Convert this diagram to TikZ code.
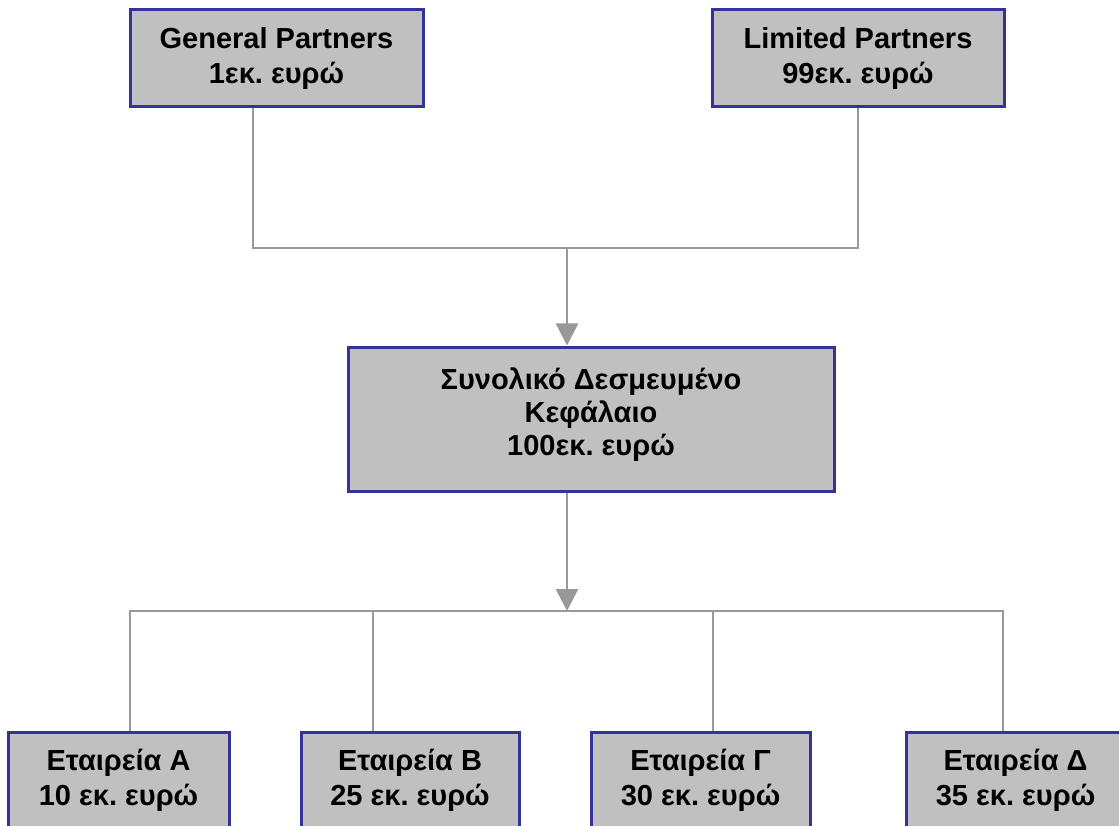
\documentclass[tikz,border=0pt]{standalone}
\usepackage{fontspec}
\setmainfont{Liberation Sans}
\usetikzlibrary{arrows.meta}
\frenchspacing
\definecolor{boxfill}{HTML}{C0C0C0}
\definecolor{boxline}{HTML}{333399}
\definecolor{connline}{HTML}{999999}
\tikzset{
  orgbox/.style={draw=boxline, fill=boxfill, line width=3pt, inner sep=0pt,
    align=center, font=\fontsize{29}{35}\selectfont\bfseries\frenchspacing, text=black},
  conn/.style={draw=connline, line width=2.6pt},
  arr/.style={conn, -{Triangle[width=22pt,length=22pt]}},
}
\begin{document}
\begin{tikzpicture}[x=1pt,y=-1pt]
\useasboundingbox (0,0) rectangle (1119,826);
\clip (0,0) rectangle (1119,826);
\fill[white] (0,0) rectangle (1119,826);
% top boxes
\node[orgbox, minimum width=293pt, minimum height=97pt] (gp) at (276.5,58.5) {General Partners\\1εκ. ευρώ};
\node[orgbox, minimum width=292pt, minimum height=97pt] (lp) at (858,58.5) {Limited Partners\\99εκ. ευρώ};
% centre box
\node[orgbox, font=\fontsize{29}{33}\selectfont\bfseries\frenchspacing, minimum width=486pt, minimum height=144pt] (cap) at (591,419) {Συνολικό Δεσμευμένο\\Κεφάλαιο\\100εκ. ευρώ\\[-19pt]\mbox{}};
% bottom boxes
\node[orgbox, minimum width=221pt, minimum height=97pt] (ea) at (118.5,780.5) {Εταιρεία Α\\10 εκ. ευρώ};
\node[orgbox, minimum width=218pt, minimum height=97pt] (eb) at (410,780.5) {Εταιρεία Β\\25 εκ. ευρώ};
\node[orgbox, minimum width=219pt, minimum height=97pt] (ec) at (700.5,780.5) {Εταιρεία Γ\\30 εκ. ευρώ};
\node[orgbox, minimum width=219pt, minimum height=97pt] (ed) at (1015.5,780.5) {Εταιρεία Δ\\35 εκ. ευρώ};
% junctions
\coordinate (j1) at (567,248);
\coordinate (gpx) at (253,248);
\coordinate (lpx) at (858,248);
\coordinate (j2) at (567,611);
\coordinate (ax) at (130,611);
\coordinate (bx) at (373,611);
\coordinate (cx) at (713,611);
\coordinate (dx) at (1003,611);
% connectors top
\draw[conn] (gp.south -| gpx) -- (gpx) -- (lpx) -- (lp.south -| lpx);
\draw[arr] (j1) -- (cap.north -| j1);
% connectors bottom
\draw[arr] (cap.south -| j2) -- (j2);
\draw[conn] (ea.north -| ax) -- (ax) -- (dx) -- (ed.north -| dx);
\draw[conn] (bx) -- (eb.north -| bx);
\draw[conn] (cx) -- (ec.north -| cx);
\end{tikzpicture}
\end{document}
